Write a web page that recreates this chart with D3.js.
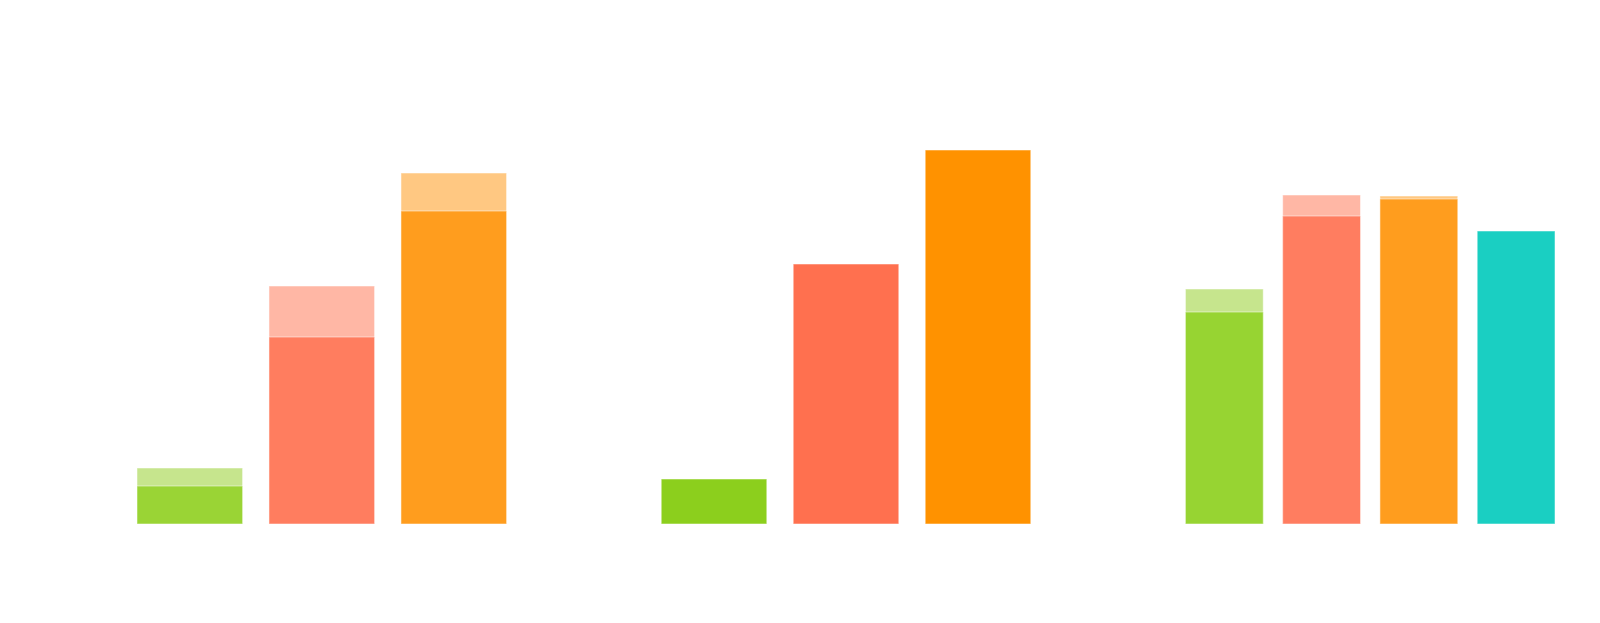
<!DOCTYPE html>
<html>
<head>
<meta charset="utf-8">
<script src="https://cdn.jsdelivr.net/npm/d3@7"></script>
<style>
  body { margin: 0; background: #fff; }
</style>
</head>
<body>
<script>
'use strict'

var width = 1600
var height = 623

// three panels, no labels shown in the picture
var panels = ["p1", "p2", "p3"]

var series1 = ["green", "coral", "orange"]
var solid1 = [9.5, 46.75, 78.25]
var total1 = [14, 59.5, 87.75]

var series2 = ["green", "tomato", "darkorange"]
var solid2 = [11.25, 65, 93.5]
var total2 = [null, null, null]

var series3 = ["green", "coral", "orange", "turquoise"]
var solid3 = [53, 77, 81.25, 73.25]
var total3 = [58.75, 82.25, 82, null]

var panelSeries = [series1, series2, series3]
var panelSolid = [solid1, solid2, solid3]
var panelTotal = [total1, total2, total3]

var solidColors = [
  { green: "#9ad435", coral: "#ff7d5f", orange: "#ff9d1e" },
  { green: "#8ccf1d", tomato: "#ff704f", darkorange: "#ff9200" },
  { green: "#97d432", coral: "#ff7d60", orange: "#ff9d1e", turquoise: "#1acfc2" }
]
var lightColors = { green: "#c6e58d", coral: "#ffb7a5", orange: "#ffc882" }

var svg = d3.select("body").append("svg")
  .attr("width", width)
  .attr("height", height)

var x0 = d3.scaleBand()
  .domain(panels)
  .range([137, 1555])
  .paddingInner(0.295)

var y = d3.scaleLinear()
  .domain([0, 100])
  .range([524, 124])

panels.forEach(function (p, i) {
  var x1 = d3.scaleBand()
    .domain(panelSeries[i])
    .range([0, x0.bandwidth()])
    .paddingInner(0.2)

  var rows = panelSeries[i].map(function (s, j) {
    return { s: s, solid: panelSolid[i][j], total: panelTotal[i][j] }
  })

  var g = svg.append("g")
    .attr("transform", "translate(" + x0(p) + ",0)")

  // lighter upper part
  g.selectAll("rect.upper")
    .data(rows.filter(function (d) { return d.total != null }))
    .enter()
    .append("rect")
    .attr("class", "upper")
    .attr("x", function (d) { return x1(d.s) })
    .attr("width", x1.bandwidth())
    .attr("y", function (d) { return y(d.total) })
    .attr("height", function (d) { return y(0) - y(d.total) })
    .attr("fill", function (d) { return lightColors[d.s] })
    .attr("stroke", "#fff")
    .attr("stroke-opacity", 0.5)

  g.selectAll("rect.solid")
    .data(rows)
    .enter()
    .append("rect")
    .attr("class", "solid")
    .attr("x", function (d) { return x1(d.s) })
    .attr("width", x1.bandwidth())
    .attr("y", function (d) { return y(d.solid) })
    .attr("height", function (d) { return y(0) - y(d.solid) })
    .attr("fill", function (d) { return solidColors[i][d.s] })
    .attr("stroke", "#fff")
    .attr("stroke-opacity", 0.5)
})
</script>
</body>
</html>
